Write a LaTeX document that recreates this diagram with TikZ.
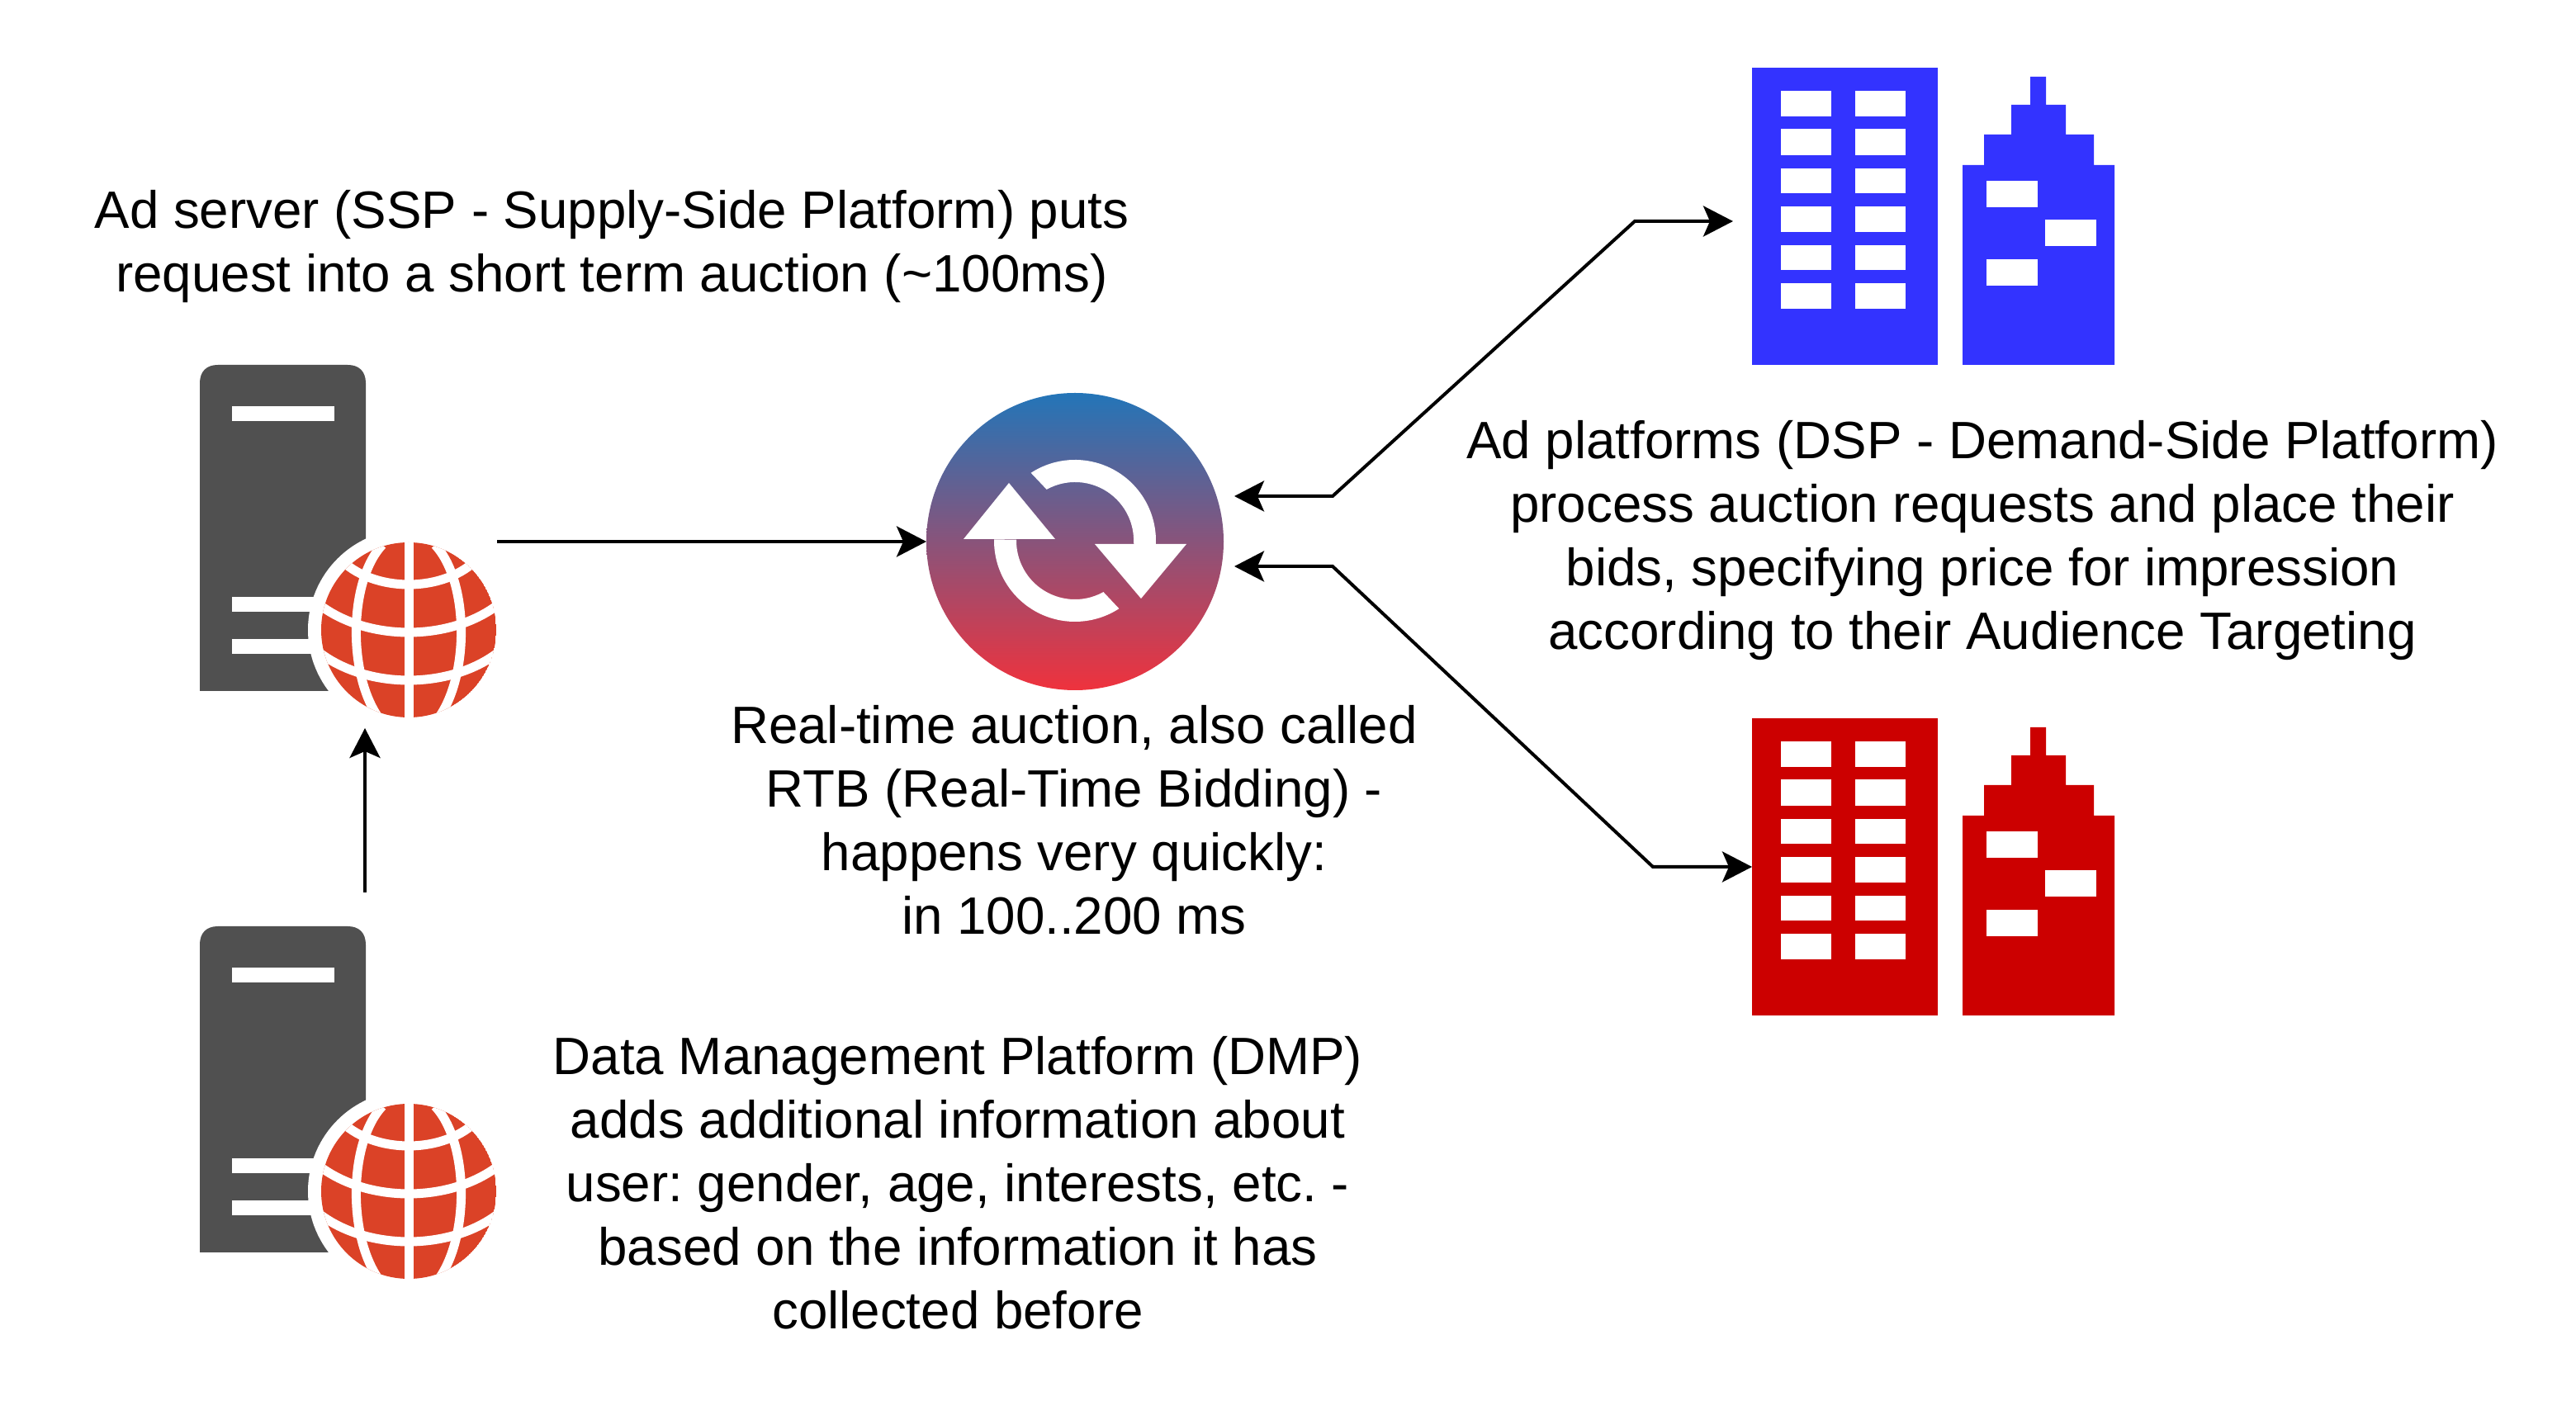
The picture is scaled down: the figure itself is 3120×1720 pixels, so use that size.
\documentclass[tikz,border=0pt]{standalone}
\usepackage{fontspec}
\setmainfont{Liberation Sans}
\usetikzlibrary{arrows.meta}
\definecolor{servergray}{HTML}{505050}
\definecolor{globered}{HTML}{DB4227}
\definecolor{auctionblue}{HTML}{2375B8}
\definecolor{auctionred}{HTML}{EF323D}
\definecolor{dspblue}{HTML}{3333FF}
\definecolor{dspred}{HTML}{CC0000}
\tikzset{
	flow/.style={line width=1pt, -{Stealth[length=9pt, width=9.25pt, inset=2pt]}},
	flowboth/.style={line width=1pt, {Stealth[length=9pt, width=9.25pt, inset=2pt]}-{Stealth[length=9pt, width=9.25pt, inset=2pt]}},
	caption/.style={align=center, inner sep=0pt, font=\fontsize{15.92}{19.25}\selectfont},
	iconbox/.style={inner sep=0pt, outer sep=0pt}
}
\frenchspacing
\def\netserver[#1](#2){
	\begin{scope}[shift={(#2)}]
		\node[iconbox, minimum width=50pt, minimum height=98.75pt] (#1) at (342, 639.5) {};
		\fill[servergray] (242, 837) -- (242, 464) .. controls (242, 450) and (250, 442) .. (264, 442) -- (421, 442) .. controls (435, 442) and (443, 450) .. (443, 464) -- (443, 837) -- cycle;
		\fill[white] (281, 492) rectangle (405, 510);
		\fill[white] (281, 723) rectangle (405, 741);
		\fill[white] (281, 774) rectangle (405, 792);
		\fill[white] (495, 763) circle (122);
		\begin{scope}
			\clip (495, 763) circle (106);
			\fill[globered] (495, 763) circle (106);
			\draw[white, line width=2.75pt] (495, 640) -- (495, 880);
			\draw[white, line width=2.75pt] (463, 660) .. controls (423, 703) and (421, 813) .. (457, 867);
			\draw[white, line width=2.75pt] (527, 660) .. controls (567, 703) and (569, 813) .. (533, 867);
			\draw[white, line width=2.75pt] (410, 675) .. controls (450, 719) and (540, 719) .. (580, 675);
			\draw[white, line width=2.75pt] (380, 727) .. controls (440, 779) and (550, 779) .. (610, 727);
			\draw[white, line width=2.75pt] (380, 785) .. controls (440, 837) and (550, 837) .. (610, 785);
		\end{scope}
	\end{scope}
}
\def\officeblocks[#1](#2)#3{
	\begin{scope}[shift={(#2)}]
		\node[iconbox, minimum width=109.75pt, minimum height=90pt] (#1) at (2341.5, 262) {};
		\fill[#3] (2122, 82) rectangle (2347, 442);
		\fill[white] (2157, 110) rectangle (2218, 141);
		\fill[white] (2247, 110) rectangle (2308, 141);
		\fill[white] (2157, 156) rectangle (2218, 188);
		\fill[white] (2247, 156) rectangle (2308, 188);
		\fill[white] (2157, 204) rectangle (2218, 234);
		\fill[white] (2247, 204) rectangle (2308, 234);
		\fill[white] (2157, 250) rectangle (2218, 281);
		\fill[white] (2247, 250) rectangle (2308, 281);
		\fill[white] (2157, 297) rectangle (2218, 327);
		\fill[white] (2247, 297) rectangle (2308, 327);
		\fill[white] (2157, 343) rectangle (2218, 374);
		\fill[white] (2247, 343) rectangle (2308, 374);
		\fill[#3] (2377, 442) -- (2377, 200) -- (2403, 200) -- (2403, 163) -- (2436, 163) -- (2436, 127) -- (2459, 127) -- (2459, 93) -- (2478, 93) -- (2478, 127) -- (2502, 127) -- (2502, 163) -- (2536, 163) -- (2536, 200) -- (2561, 200) -- (2561, 442) -- cycle;
		\fill[white] (2406, 219) rectangle (2468, 251);
		\fill[white] (2477, 266) rectangle (2539, 298);
		\fill[white] (2406, 314) rectangle (2468, 346);
	\end{scope}
}
\begin{document}
\begin{tikzpicture}[x=0.25pt, y=-0.25pt]
	\useasboundingbox (0, 0) rectangle (3120, 1720);
	%%%%% ICONS %%%%%
	\netserver[adserver](0, 0)
	\netserver[dmpserver](0, 680)
	\officeblocks[bluebids](0, 0){dspblue}
	\officeblocks[redbids](0, 788){dspred}
	
	\node[iconbox, circle, minimum size=90pt, top color=auctionblue, bottom color=auctionred] (auction) at (1302, 656) {};
	\fill[white] (1302, 655) ++(-123:98) arc (-123:3:98) -- (1373, 658.7) arc (3:-119:71) -- cycle;
	\fill[white] (1326, 659) -- (1437, 659) -- (1382, 725) -- cycle;
	\fill[white] (1302, 655) ++(181:98) arc (181:57:98) -- (1336.4, 717.1) arc (61:181:71) -- cycle;
	\fill[white] (1167, 653) -- (1278, 653) -- (1222, 585) -- cycle;
	
	%%%%% TEXT %%%%%
	\node[caption] (adtext) at (741, 299) {Ad server (SSP - Supply-Side Platform) puts\\request into a short term auction (\textasciitilde100ms)};
	\node[caption] (auctiontext) at (1301, 993) {Real-time auction, also called\\RTB (Real-Time Bidding) -\\happens very quickly:\\in 100..200 ms};
	\node[caption] (dsptext) at (2401, 655) {Ad platforms (DSP - Demand-Side Platform)\\process auction requests and place their\\bids, specifying price for impression\\according to their Audience Targeting};
	\node[caption] (dmptext) at (1160, 1433) {Data Management Platform (DMP)\\adds additional information about\\user: gender, age, interests, etc. -\\based on the information it has\\collected before};
	
	%%%%% ARROWS %%%%%
	\coordinate (adout) at (602, 656);
	\coordinate (bidup) at (1495, 601);
	\coordinate (bidupbend) at (1614, 601);
	\coordinate (blueturn) at (1980, 268);
	\coordinate (bluein) at (2099, 268);
	\coordinate (biddown) at (1495, 686);
	\coordinate (biddownbend) at (1614, 686);
	\coordinate (redturn) at (2002, 1050);
	
	\draw[flow] (adout) -- (auction.west);
	\draw[flow, shorten <=10.25pt, shorten >=11.25pt] (dmpserver.north east) -- (adserver.south east);
	\draw[flowboth] (bidup) -- (bidupbend) -- (blueturn) -- (bluein);
	\draw[flowboth] (biddown) -- (biddownbend) -- (redturn) -- (redbids.west);
\end{tikzpicture}
\end{document}
